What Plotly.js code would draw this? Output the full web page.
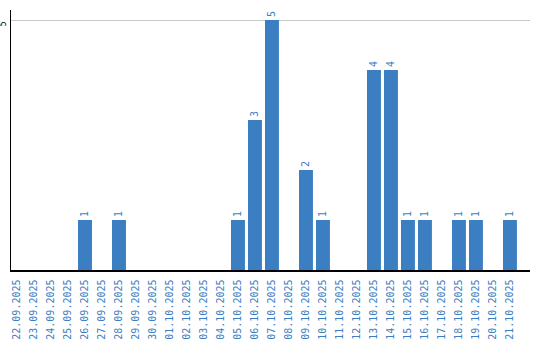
<!DOCTYPE html>
<html><head><meta charset="utf-8">
<script src="https://cdn.plot.ly/plotly-3.0.1.min.js"></script>
<style>body{margin:0;padding:0;background:#fff}#c{width:540px;height:340px}</style>
</head><body><div id="c"></div>
<script>
const dates = ["22.09.2025","23.09.2025","24.09.2025","25.09.2025","26.09.2025","27.09.2025","28.09.2025","29.09.2025","30.09.2025","01.10.2025","02.10.2025","03.10.2025","04.10.2025","05.10.2025","06.10.2025","07.10.2025","08.10.2025","09.10.2025","10.10.2025","11.10.2025","12.10.2025","13.10.2025","14.10.2025","15.10.2025","16.10.2025","17.10.2025","18.10.2025","19.10.2025","20.10.2025","21.10.2025"];
const counts = [0,0,0,0,1,0,1,0,0,0,0,0,0,1,3,5,0,2,1,0,0,4,4,1,1,0,1,1,0,1];
const yTicks = [5];

const blue = "#3b7ec2";
const labels = counts.map(v => v > 0 ? String(v) : "");

Plotly.newPlot("c", [{
  type: "bar",
  x: dates,
  y: counts,
  text: labels,
  textposition: "outside",
  textangle: -90,
  cliponaxis: false,
  textfont: {family: "DejaVu Sans Mono", size: 10, color: blue},
  marker: {color: blue},
  width: 0.82,
  hoverinfo: "none"
}], {
  width: 540, height: 340,
  margin: {l: 11, r: 10, t: 10, b: 70},
  paper_bgcolor: "#fff", plot_bgcolor: "#fff",
  showlegend: false,
  xaxis: {
    type: "category",
    range: [-0.353, 30.18],
    tickangle: -90,
    tickfont: {family: "DejaVu Sans Mono", size: 10, color: blue},
    showline: true, linecolor: "#000", linewidth: 1.5,
    showgrid: false, ticks: "", ticklabelstandoff: 4
  },
  yaxis: {
    range: [0, 5.2],
    tickvals: yTicks,
    ticktext: yTicks.map(String),
    tickangle: -90,
    tickfont: {family: "DejaVu Sans Mono", size: 8, color: "#000"},
    showline: true, linecolor: "#000", linewidth: 1.5,
    showgrid: true, gridcolor: "#c8c8c8", gridwidth: 1,
    zeroline: false, ticks: "", ticklabelstandoff: 0, ticklabelshift: 5
  }
}, {staticPlot: true, displayModeBar: false});
</script></body></html>
